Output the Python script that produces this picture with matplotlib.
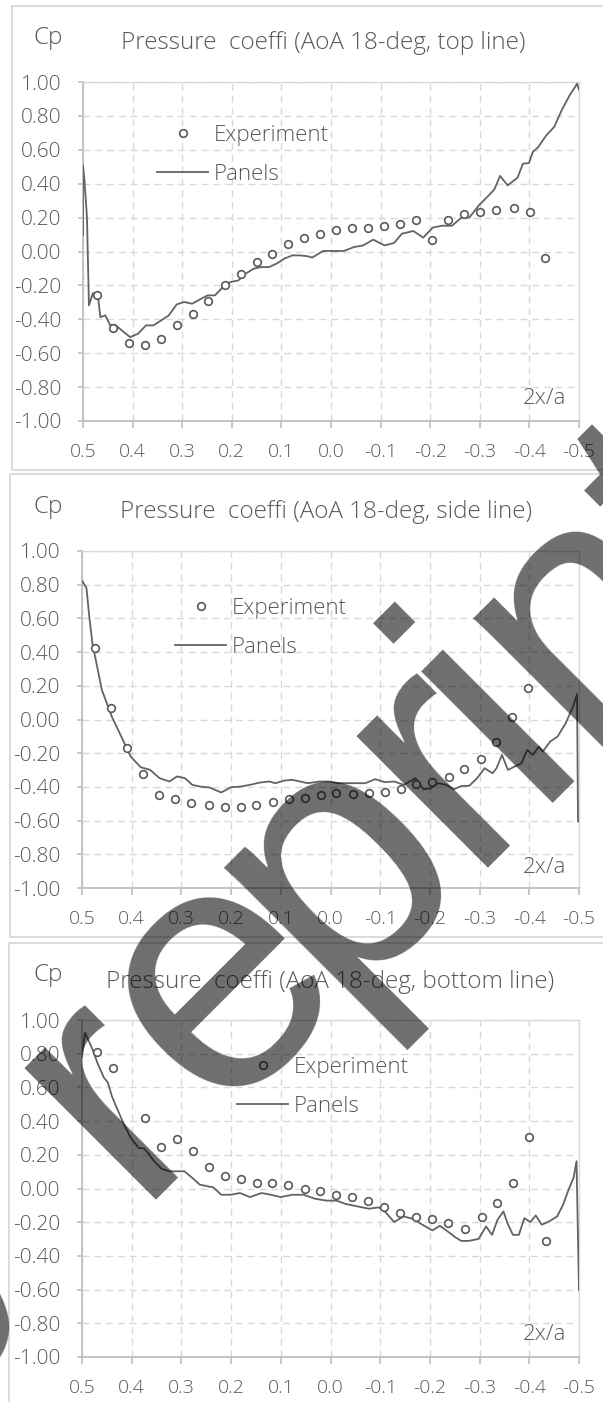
import matplotlib
matplotlib.use("Agg")
import matplotlib.pyplot as plt
from matplotlib.patches import Rectangle
from matplotlib.lines import Line2D

plt.rcParams["axes.unicode_minus"] = False
FONT = ["Open Sans", "DejaVu Sans"]
plt.rcParams["font.family"] = FONT
plt.rcParams["font.weight"] = "light"

# ---------------- data ----------------
x_ticks = [0.5, 0.4, 0.3, 0.2, 0.1, 0.0, -0.1, -0.2, -0.3, -0.4, -0.5]
x_tick_labels = ["0.5", "0.4", "0.3", "0.2", "0.1", "0.0", "-0.1", "-0.2", "-0.3", "-0.4", "-0.5"]
y_ticks = [1.0, 0.8, 0.6, 0.4, 0.2, 0.0, -0.2, -0.4, -0.6, -0.8, -1.0]
y_tick_labels = ["1.00", "0.80", "0.60", "0.40", "0.20", "0.00", "-0.20", "-0.40", "-0.60", "-0.80", "-1.00"]

titles = ["Pressure  coeffi (AoA 18-deg, top line)",
          "Pressure  coeffi (AoA 18-deg, side line)",
          "Pressure  coeffi (AoA 18-deg, bottom line)"]

# top line
top_exp_x = [0.472, 0.440, 0.407, 0.376, 0.343, 0.311, 0.279, 0.247, 0.214, 0.182,
             0.150, 0.118, 0.086, 0.054, 0.022, -0.011, -0.043, -0.075, -0.107, -0.140,
             -0.172, -0.203, -0.236, -0.268, -0.300, -0.333, -0.369, -0.401, -0.432]
top_exp_y = [-0.259, -0.449, -0.540, -0.554, -0.518, -0.436, -0.367, -0.294, -0.200, -0.131,
             -0.062, -0.013, 0.046, 0.082, 0.105, 0.129, 0.139, 0.139, 0.150, 0.164,
             0.188, 0.070, 0.188, 0.223, 0.233, 0.243, 0.257, 0.233, -0.036]
top_pan_x = [0.500, 0.500, 0.497, 0.492, 0.488, 0.480, 0.470, 0.465, 0.455, 0.445,
             0.436, 0.405, 0.389, 0.373, 0.358, 0.342, 0.327, 0.311, 0.296, 0.280,
             0.265, 0.249, 0.234, 0.218, 0.203, 0.187, 0.172, 0.156, 0.141, 0.125,
             0.110, 0.094, 0.078, 0.063, 0.047, 0.038, 0.016, -0.007, -0.026, -0.046,
             -0.065, -0.085, -0.108, -0.127, -0.143, -0.166, -0.186, -0.205, -0.224, -0.244,
             -0.263, -0.279, -0.298, -0.318, -0.329, -0.341, -0.356, -0.376, -0.387, -0.399,
             -0.407, -0.418, -0.434, -0.450, -0.465, -0.481, -0.492, -0.496, -0.500]
top_pan_y = [0.095, 0.508, 0.420, 0.200, -0.318, -0.245, -0.260, -0.387, -0.377, -0.436,
             -0.432, -0.505, -0.485, -0.436, -0.436, -0.406, -0.377, -0.312, -0.298, -0.308,
             -0.284, -0.259, -0.259, -0.210, -0.180, -0.171, -0.131, -0.101, -0.092, -0.092,
             -0.072, -0.042, -0.023, -0.023, -0.028, -0.036, 0.003, 0.003, 0.003, 0.026,
             0.036, 0.070, 0.036, 0.050, 0.105, 0.121, 0.082, 0.141, 0.152, 0.152,
             0.200, 0.200, 0.272, 0.331, 0.365, 0.446, 0.390, 0.435, 0.518, 0.522,
             0.587, 0.617, 0.685, 0.735, 0.833, 0.921, 0.970, 0.990, 0.955]

# side line
side_exp_x = [0.474, 0.441, 0.409, 0.377, 0.345, 0.313, 0.280, 0.245, 0.213, 0.180,
              0.149, 0.116, 0.084, 0.052, 0.020, -0.012, -0.045, -0.077, -0.109, -0.141,
              -0.173, -0.205, -0.238, -0.269, -0.302, -0.334, -0.365, -0.398]
side_exp_y = [0.422, 0.066, -0.167, -0.323, -0.451, -0.473, -0.497, -0.510, -0.522, -0.522,
              -0.510, -0.487, -0.473, -0.463, -0.451, -0.437, -0.441, -0.437, -0.428, -0.414,
              -0.382, -0.368, -0.343, -0.296, -0.237, -0.133, 0.013, 0.189]
side_pan_x = [0.499, 0.495, 0.491, 0.485, 0.479, 0.460, 0.440, 0.421, 0.402, 0.382,
              0.363, 0.344, 0.324, 0.309, 0.293, 0.278, 0.262, 0.243, 0.220, 0.200,
              0.181, 0.162, 0.142, 0.123, 0.111, 0.092, 0.077, 0.061, 0.046, 0.022,
              0.003, -0.016, -0.036, -0.055, -0.070, -0.090, -0.109, -0.128, -0.148, -0.171,
              -0.187, -0.202, -0.217, -0.233, -0.248, -0.264, -0.279, -0.295, -0.310, -0.326,
              -0.334, -0.345, -0.357, -0.368, -0.384, -0.396, -0.407, -0.419, -0.427, -0.442,
              -0.457, -0.473, -0.488, -0.496, -0.498]
side_pan_y = [0.820, 0.800, 0.780, 0.600, 0.451, 0.175, 0.017, -0.101, -0.220, -0.283,
              -0.299, -0.348, -0.368, -0.338, -0.348, -0.388, -0.398, -0.404, -0.433, -0.402,
              -0.398, -0.388, -0.374, -0.368, -0.378, -0.362, -0.358, -0.368, -0.378, -0.368,
              -0.368, -0.378, -0.378, -0.378, -0.378, -0.354, -0.372, -0.368, -0.388, -0.348,
              -0.414, -0.408, -0.378, -0.388, -0.414, -0.394, -0.394, -0.348, -0.289, -0.319,
              -0.289, -0.210, -0.299, -0.283, -0.260, -0.180, -0.210, -0.161, -0.191, -0.131,
              -0.101, -0.023, 0.076, 0.151, -0.605]

# bottom line
bot_exp_x = [0.469, 0.437, 0.374, 0.342, 0.309, 0.277, 0.245, 0.213, 0.181, 0.148,
             0.117, 0.085, 0.052, 0.021, -0.012, -0.043, -0.076, -0.107, -0.140, -0.172,
             -0.204, -0.236, -0.271, -0.304, -0.336, -0.368, -0.400, -0.433]
bot_exp_y = [0.813, 0.718, 0.420, 0.245, 0.295, 0.221, 0.126, 0.076, 0.055, 0.033,
             0.033, 0.019, -0.003, -0.013, -0.037, -0.051, -0.072, -0.110, -0.146, -0.170,
             -0.180, -0.205, -0.241, -0.170, -0.086, 0.033, 0.305, -0.311]
bot_pan_x = [0.500, 0.494, 0.479, 0.468, 0.456, 0.448, 0.440, 0.433, 0.417, 0.402,
             0.386, 0.375, 0.367, 0.355, 0.340, 0.325, 0.309, 0.294, 0.278, 0.263,
             0.247, 0.236, 0.220, 0.201, 0.182, 0.162, 0.139, 0.120, 0.100, 0.077,
             0.054, 0.031, 0.008, -0.012, -0.031, -0.054, -0.077, -0.097, -0.108, -0.128,
             -0.147, -0.166, -0.185, -0.205, -0.220, -0.236, -0.251, -0.263, -0.278, -0.298,
             -0.313, -0.325, -0.336, -0.348, -0.356, -0.367, -0.379, -0.390, -0.402, -0.413,
             -0.425, -0.440, -0.456, -0.468, -0.479, -0.489, -0.495, -0.500]
bot_pan_y = [0.780, 0.925, 0.827, 0.738, 0.658, 0.629, 0.549, 0.499, 0.390, 0.301,
             0.241, 0.237, 0.211, 0.162, 0.118, 0.102, 0.102, 0.102, 0.063, 0.023,
             0.013, 0.007, -0.037, -0.037, -0.027, -0.051, -0.027, -0.037, -0.051, -0.037,
             -0.037, -0.061, -0.072, -0.072, -0.092, -0.106, -0.120, -0.112, -0.132, -0.199,
             -0.166, -0.180, -0.215, -0.249, -0.221, -0.255, -0.289, -0.311, -0.311, -0.299,
             -0.225, -0.275, -0.186, -0.136, -0.205, -0.275, -0.275, -0.176, -0.199, -0.160,
             -0.215, -0.195, -0.166, -0.096, -0.007, 0.063, 0.162, -0.603]

exp_xs = [top_exp_x, side_exp_x, bot_exp_x]
exp_ys = [top_exp_y, side_exp_y, bot_exp_y]
pan_xs = [top_pan_x, side_pan_x, bot_pan_x]
pan_ys = [top_pan_y, side_pan_y, bot_pan_y]

# watermark letters and their positions along the 45-degree baseline
wm_letters = ["p", "r", "e", "p", "r", "i", "n", "t"]
wm_offsets = [-985, -697, -540, -374, -227, -154, -21, 112]

# ---------------- layout (pixels) ----------------
W, H = 603, 1402
fig = plt.figure(figsize=(W / 100, H / 100), dpi=100)

def fx(x):
    return x / W

def fy(y):
    return 1 - y / H

TXT = "#595959"
GRID = "#d9d9d9"
AX = "#bfbfbf"

axes_px = [(83, 579, 82, 421), (82, 579, 551, 888), (82, 579, 1020, 1357)]
border_px = [(12, 6, 700, 470), (10, 474, 700, 937), (9, 943, 700, 1460)]
cp_pos = [(48, 38), (48, 507), (48, 975)]
title_pos = [(323, 43), (326, 512), (330, 982)]
legend_pos = [(157, 125), (175, 598), (237, 1057)]
lab_pos = [(544, 398), (544, 867), (544, 1335)]

for i in range(3):
    bx, by, bx2, by2 = border_px[i]
    fig.patches.append(Rectangle((fx(bx), fy(by2)), (bx2 - bx) / W, (by2 - by) / H,
                                 transform=fig.transFigure, fill=False,
                                 edgecolor=GRID, linewidth=1.3, zorder=0))
    l, r, t, b = axes_px[i]
    ax = fig.add_axes([fx(l), fy(b), (r - l) / W, (b - t) / H])
    ax.set_xlim(0.5, -0.5)
    ax.set_ylim(-1.0, 1.0)
    ax.set_xticks(x_ticks)
    ax.set_xticklabels(x_tick_labels)
    ax.set_yticks(y_ticks)
    ax.set_yticklabels(y_tick_labels)
    ax.grid(True, linestyle=(0, (5, 3.5)), color=GRID, linewidth=1.0)
    ax.set_axisbelow(True)
    for s in ["top", "right"]:
        ax.spines[s].set_color(GRID)
        ax.spines[s].set_linewidth(1.0)
    for s in ["left", "bottom"]:
        ax.spines[s].set_color(AX)
        ax.spines[s].set_linewidth(1.3)
    ax.tick_params(axis="x", direction="out", length=5, width=1.2, color=AX,
                   labelsize=14, labelcolor=TXT, pad=11)
    ax.tick_params(axis="y", direction="out", length=3.6, width=1.2, color=AX,
                   labelsize=15, labelcolor=TXT, pad=12)

    ax.plot(pan_xs[i], pan_ys[i], color="#636363", linewidth=1.3, zorder=3)
    ax.plot(exp_xs[i], exp_ys[i], linestyle="none", marker="o", markersize=5.5,
            markerfacecolor="white", markeredgecolor="#595959", markeredgewidth=1.2, zorder=4)

    h_exp = Line2D([], [], linestyle="none", marker="o", markersize=5.5,
                   markerfacecolor="white", markeredgecolor="#595959", markeredgewidth=1.2)
    h_pan = Line2D([], [], color="#636363", linewidth=1.3)
    lx, ly = legend_pos[i]
    ax.legend([h_exp, h_pan], ["Experiment", "Panels"], loc="upper left",
              bbox_to_anchor=(fx(lx), fy(ly)), bbox_transform=fig.transFigure,
              frameon=False, borderpad=0, borderaxespad=0, handlelength=2.3,
              handletextpad=0.25, labelspacing=0.8, fontsize=16, labelcolor=TXT)

    fig.text(fx(cp_pos[i][0]), fy(cp_pos[i][1]), "Cp", fontsize=17.5, color=TXT,
             ha="center", va="center")
    fig.text(fx(title_pos[i][0]), fy(title_pos[i][1]), titles[i], fontsize=17.5,
             color=TXT, ha="center", va="center")
    fig.text(fx(lab_pos[i][0]), fy(lab_pos[i][1]), "2x/a", fontsize=16, color=TXT,
             ha="center", va="center")

# watermark, letter by letter along a 45-degree baseline
BASE_H = -942.0
for ch, s in zip(wm_letters, wm_offsets):
    px = (s - BASE_H) * 0.7071
    py = (-BASE_H - s) * 0.7071
    fig.text(fx(px), fy(py), ch, rotation=45, rotation_mode="anchor",
             ha="center", va="baseline", fontsize=253, fontweight="normal",
             family=["Liberation Sans", "DejaVu Sans"], color="black", alpha=0.57,
             zorder=20)

fig.savefig("out.png", dpi=100)
